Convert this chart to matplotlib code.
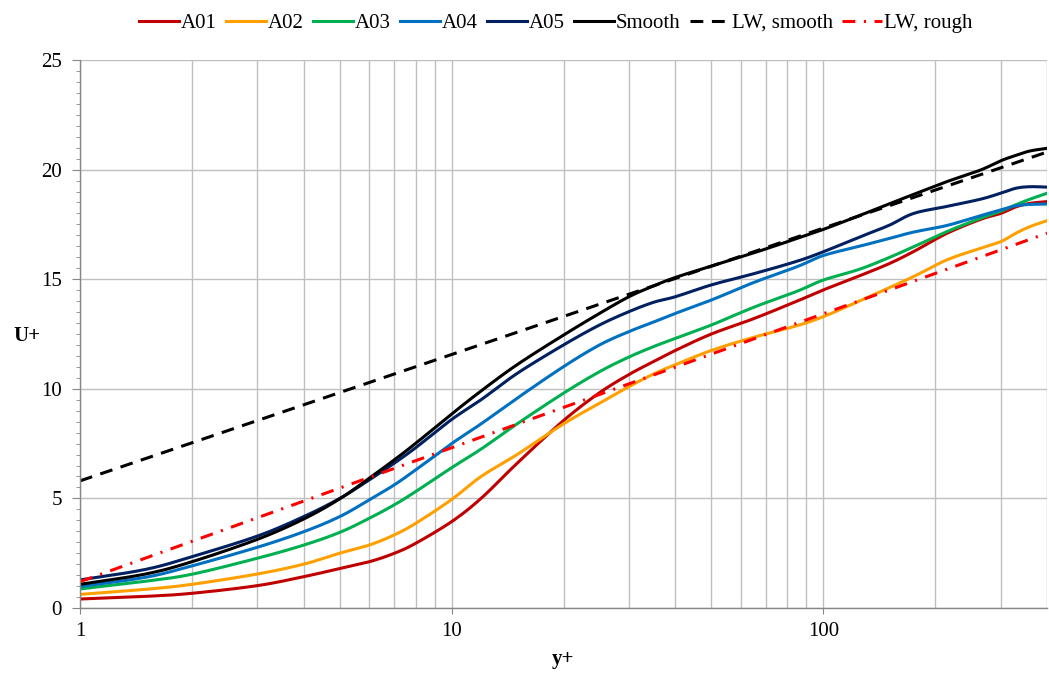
import matplotlib
matplotlib.use("Agg")
import numpy as np
import matplotlib.pyplot as plt
from matplotlib.ticker import FixedLocator, NullFormatter, MultipleLocator, LogLocator, FuncFormatter

plt.rcParams['font.family'] = ['Liberation Serif', 'DejaVu Serif']

# y+ sample positions
y_plus = [1, 1.5, 2, 3, 4, 5, 6, 7, 8, 10, 12, 15, 20, 25, 30, 35, 40, 50, 65, 85,
          100, 125, 150, 175, 215, 265, 300, 330, 360, 400]

a01 = [0.41, 0.53, 0.67, 1.02, 1.43, 1.80, 2.11, 2.49, 2.95, 3.94, 5.00, 6.60, 8.55,
       9.82, 10.65, 11.25, 11.75, 12.50, 13.20, 14.00, 14.51, 15.15, 15.70, 16.26, 17.09,
       17.73, 18.00, 18.30, 18.46, 18.54]
a02 = [0.62, 0.85, 1.08, 1.55, 2.00, 2.50, 2.87, 3.33, 3.86, 4.95, 6.00, 7.00, 8.40,
       9.34, 10.10, 10.68, 11.10, 11.75, 12.35, 12.88, 13.29, 14.00, 14.60, 15.12, 15.88,
       16.41, 16.71, 17.10, 17.40, 17.67]
a03 = [0.87, 1.22, 1.54, 2.27, 2.87, 3.45, 4.09, 4.70, 5.31, 6.40, 7.25, 8.40, 9.80,
       10.78, 11.45, 11.93, 12.30, 12.91, 13.72, 14.45, 14.96, 15.45, 15.98, 16.48, 17.17,
       17.78, 18.10, 18.40, 18.65, 18.92]
a04 = [0.98, 1.40, 1.92, 2.77, 3.48, 4.17, 4.93, 5.61, 6.30, 7.50, 8.40, 9.57, 11.01,
       12.00, 12.61, 13.05, 13.44, 14.05, 14.85, 15.57, 16.08, 16.50, 16.85, 17.15, 17.45,
       17.90, 18.16, 18.35, 18.41, 18.43]
a05 = [1.28, 1.76, 2.34, 3.28, 4.17, 5.00, 5.84, 6.60, 7.31, 8.60, 9.50, 10.70, 12.00,
       12.91, 13.52, 13.95, 14.20, 14.74, 15.25, 15.82, 16.25, 16.92, 17.45, 18.00, 18.32,
       18.65, 18.92, 19.15, 19.22, 19.20]
smooth = [1.08, 1.55, 2.11, 3.13, 4.06, 4.98, 5.92, 6.75, 7.51, 8.85, 9.90, 11.10, 12.45,
          13.44, 14.20, 14.70, 15.08, 15.60, 16.20, 16.86, 17.27, 17.90, 18.43, 18.87, 19.45,
          19.98, 20.40, 20.65, 20.85, 20.97]

lw_y = [1, 400]
lw_smooth = [5.8, 20.8]
lw_rough = [1.2, 17.1]

series = [("A01", a01, "#C00000"), ("A02", a02, "#FFA000"), ("A03", a03, "#00B050"),
          ("A04", a04, "#0070C0"), ("A05", a05, "#002060"), ("Smooth", smooth, "#000000")]


def smoothed(xs, ys, n=12):
    """Catmull-Rom rendering through the read points (in log-x space), like Excel's smoothed line."""
    lx = np.log10(np.asarray(xs, float))
    yv = np.asarray(ys, float)
    px = np.concatenate([[2 * lx[0] - lx[1]], lx, [2 * lx[-1] - lx[-2]]])
    py = np.concatenate([[2 * yv[0] - yv[1]], yv, [2 * yv[-1] - yv[-2]]])
    outx, outy = [], []
    t = np.linspace(0, 1, n, endpoint=False)
    for i in range(1, len(px) - 2):
        for P, out in ((px, outx), (py, outy)):
            p0, p1, p2, p3 = P[i - 1], P[i], P[i + 1], P[i + 2]
            out.extend(0.5 * ((2 * p1) + (-p0 + p2) * t + (2 * p0 - 5 * p1 + 4 * p2 - p3) * t ** 2
                              + (-p0 + 3 * p1 - 3 * p2 + p3) * t ** 3))
    outx.append(lx[-1]); outy.append(yv[-1])
    return 10 ** np.array(outx), np.array(outy)


fig = plt.figure(figsize=(10.49, 6.82), dpi=100)
ax = fig.add_axes([80/1049, 74/682, 967/1049, 548/682])

LW = 2.2
for name, vals, col in series:
    sx, sy = smoothed(y_plus, vals)
    ax.plot(sx, sy, color=col, lw=LW, label=name)
ax.plot(lw_y, lw_smooth, color='black', lw=LW, ls=(0, (4.2, 2.8)), label="LW, smooth")
ax.plot(lw_y, lw_rough, color='#FF0000', lw=LW, ls=(0, (4.2, 2.8, 0.7, 2.8)), label="LW, rough")

ax.set_xscale('log')
ax.set_xlim(1, 400)
ax.set_ylim(0, 25)

ax.xaxis.set_major_locator(FixedLocator([1, 10, 100]))
ax.xaxis.set_major_formatter(FuncFormatter(lambda v, p: f"{v:g}"))
ax.xaxis.set_minor_locator(LogLocator(base=10, subs=range(2, 10), numticks=20))
ax.xaxis.set_minor_formatter(NullFormatter())
ax.yaxis.set_major_locator(MultipleLocator(5))
ax.yaxis.set_minor_locator(MultipleLocator(0.5))

ax.grid(True, which='major', color='#BFBFBF', lw=1.0)
ax.grid(True, which='minor', axis='x', color='#BFBFBF', lw=1.0)
ax.set_axisbelow(True)

for s in ['top', 'right']:
    ax.spines[s].set_visible(False)
for s in ['left', 'bottom']:
    ax.spines[s].set_color('#868686')
    ax.spines[s].set_linewidth(1.0)

ax.tick_params(axis='y', which='major', direction='out', length=6, color='#868686', labelsize=15, pad=7)
ax.tick_params(axis='y', which='minor', direction='out', length=3, color='#868686')
ax.tick_params(axis='x', which='major', direction='out', length=4, color='#868686', labelsize=15, pad=6)
ax.tick_params(axis='x', which='minor', length=0)

ax.set_xlabel("y+", fontsize=15, fontweight='bold', labelpad=6)
ax.set_ylabel("U+", fontsize=15, fontweight='bold', rotation=0, va='center', ha='center')
ax.yaxis.set_label_coords(-0.055, 0.497)

fig.legend(loc='upper center', bbox_to_anchor=(0.53, 1.008), ncol=8, frameon=False,
           fontsize=15, handlelength=1.9, handletextpad=0.1, columnspacing=0.45)

fig.savefig("out.png", dpi=100)
